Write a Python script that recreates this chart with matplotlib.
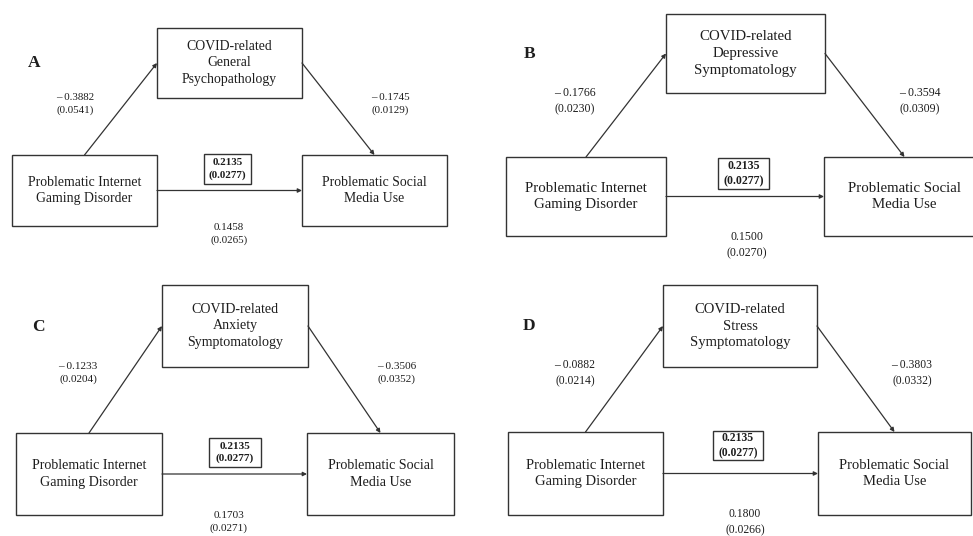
import matplotlib
matplotlib.use("Agg")
import matplotlib.pyplot as plt
from matplotlib.patches import Rectangle

plt.rcParams["font.family"] = ["Liberation Serif", "DejaVu Serif"]

# mediation models: X -> M -> Y, one panel each
letters = ["A", "B", "C", "D"]
mediators = ["COVID-related\nGeneral\nPsychopathology",
             "COVID-related\nDepressive\nSymptomatology",
             "COVID-related\nAnxiety\nSymptomatology",
             "COVID-related\nStress\nSymptomatology"]
predictor = "Problematic Internet\nGaming Disorder"
outcome = "Problematic Social\nMedia Use"
a_coef = [-0.3882, -0.1766, -0.1233, -0.0882]
a_se = [0.0541, 0.0230, 0.0204, 0.0214]
b_coef = [-0.1745, -0.3594, -0.3506, -0.3803]
b_se = [0.0129, 0.0309, 0.0352, 0.0332]
direct_coef = [0.1458, 0.1500, 0.1703, 0.1800]
direct_se = [0.0265, 0.0270, 0.0271, 0.0266]
total_coef = 0.2135
total_se = 0.0277

# panel layout in pixel coordinates (x0, y0, x1, y1)
layout = [
    dict(left=(12, 155, 157, 226), med=(157, 28, 302, 98), right=(302, 155, 447, 226),
         tbox=(204, 154, 251, 184), alab=(75, 104), blab=(390, 104), clab=(229, 234),
         letter=(34, 63), fs=9.9),
    dict(left=(506, 157, 666, 236), med=(666, 14, 825, 93), right=(824, 157, 985, 236),
         tbox=(718, 158, 769, 189), alab=(575, 101), blab=(920, 101), clab=(747, 245),
         letter=(530, 54), fs=10.7),
    dict(left=(16, 433, 162, 515), med=(162, 285, 308, 367), right=(307, 433, 454, 515),
         tbox=(209, 438, 261, 467), alab=(78, 373), blab=(397, 373), clab=(229, 522),
         letter=(38, 327), fs=10.1),
    dict(left=(508, 432, 663, 515), med=(663, 285, 817, 367), right=(818, 432, 971, 515),
         tbox=(713, 431, 763, 460), alab=(575, 373), blab=(912, 373), clab=(745, 522),
         letter=(529, 326), fs=10.5),
]

LINE = "#333333"
INK = "#1e1e1e"


def fmt(v):
    if v < 0:
        return "\u2013 %.4f" % abs(v)
    return "%.4f" % v


def box(ax, r, text, fs):
    x0, y0, x1, y1 = r
    ax.add_patch(Rectangle((x0, y0), x1 - x0, y1 - y0, fill=False, ec=LINE, lw=1.0))
    ax.text((x0 + x1) / 2, (y0 + y1) / 2, text, ha="center", va="center",
            fontsize=fs, color=INK, linespacing=1.38)


def arrow(ax, p, q):
    ax.annotate("", xy=q, xytext=p,
                arrowprops=dict(arrowstyle="-|>", color=LINE, lw=0.9,
                                mutation_scale=6, shrinkA=0, shrinkB=0))


fig = plt.figure(figsize=(9.73, 5.36), dpi=100)
ax = fig.add_axes([0, 0, 1, 1])
ax.set_xlim(0, 973)
ax.set_ylim(536, 0)
ax.axis("off")

for i, g in enumerate(layout):
    fs = g["fs"]
    small = fs * 0.8
    L, M, R = g["left"], g["med"], g["right"]
    box(ax, L, predictor, fs)
    box(ax, M, mediators[i], fs)
    box(ax, R, outcome, fs)

    # paths a, b and c'
    arrow(ax, ((L[0] + L[2]) / 2, L[1]), (M[0], (M[1] + M[3]) / 2))
    arrow(ax, (M[2], (M[1] + M[3]) / 2), ((R[0] + R[2]) / 2, R[1]))
    yc = (L[1] + L[3]) / 2
    arrow(ax, (L[2], yc), (R[0], yc))

    # total effect in its own frame
    tx0, ty0, tx1, ty1 = g["tbox"]
    ax.add_patch(Rectangle((tx0, ty0), tx1 - tx0, ty1 - ty0, fill=False, ec=LINE, lw=1.0))
    ax.text((tx0 + tx1) / 2, (ty0 + ty1) / 2, "%.4f\n(%.4f)" % (total_coef, total_se),
            ha="center", va="center", fontsize=small, fontweight="bold", color=INK,
            linespacing=1.35)

    ax.text(*g["alab"], "%s\n(%.4f)" % (fmt(a_coef[i]), a_se[i]), ha="center",
            va="center", fontsize=small, color=INK, linespacing=1.45)
    ax.text(*g["blab"], "%s\n(%.4f)" % (fmt(b_coef[i]), b_se[i]), ha="center",
            va="center", fontsize=small, color=INK, linespacing=1.45)
    ax.text(*g["clab"], "%s\n(%.4f)" % (fmt(direct_coef[i]), direct_se[i]), ha="center",
            va="center", fontsize=small, color=INK, linespacing=1.4)

    ax.text(*g["letter"], letters[i], ha="center", va="center", fontsize=12.5,
            fontweight="bold", color=INK)

fig.savefig("out.png", dpi=100)
